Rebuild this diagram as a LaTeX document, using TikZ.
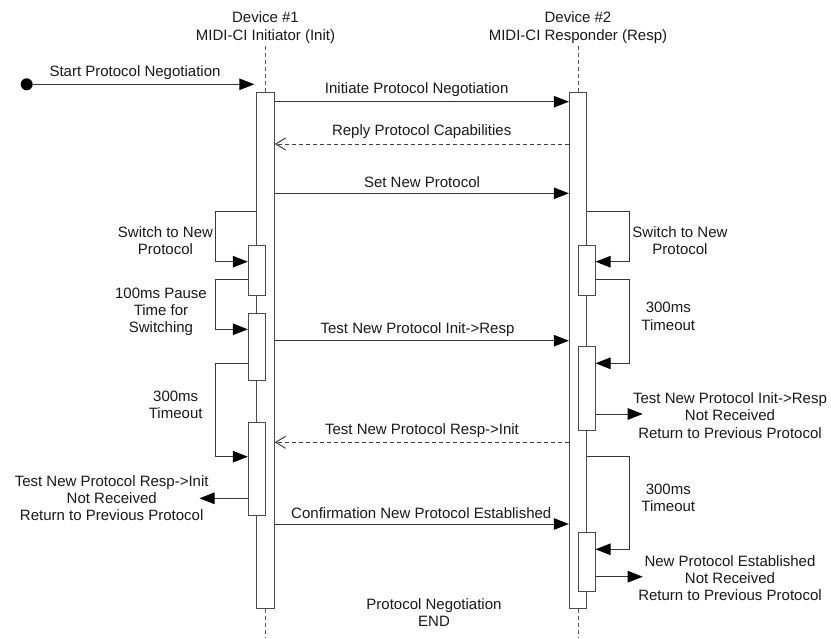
\documentclass[tikz,border=0pt]{standalone}
\usepackage{fontspec}
\setmainfont{Liberation Sans}
\usetikzlibrary{arrows.meta}
\begin{document}
\begin{tikzpicture}[x=1pt,y=-1pt,
 txt/.style={font=\fontsize{15}{17.3}\selectfont, text=black!90, inner sep=0pt, align=center},
 lbl/.style={txt, anchor=base},
 bar/.style={draw=black!70, fill=white, line width=1pt, inner sep=0pt, minimum width=17.4pt},
 msg/.style={draw=black!78, line width=1pt, -{Triangle[length=15pt,width=11.5pt,color=black]}},
 reply/.style={draw=black!75, line width=1pt, dash pattern=on 4pt off 3pt, -{Straight Barb[length=10pt,width=12pt]}},
 life/.style={draw=black!65, line width=0.9pt, dash pattern=on 4pt off 3pt}]
\useasboundingbox (0,0) rectangle (831,638);

% headers
\node[txt] (h1) at (265.5,27.5) {Device \#1\\MIDI-CI Initiator (Init)};
\node[txt] (h2) at (578,27.5) {Device \#2\\MIDI-CI Responder (Resp)};

% main activation bars
\node[bar, minimum height=515.3pt] (b1) at (265.5,350.35) {};
\node[bar, minimum height=515.3pt] (b2) at (578,350.35) {};

% lifelines
\coordinate (bot) at (0,638);
\draw[life, shorten <=3pt] (b1.north |- h1.south) -- (b1.north);
\draw[life, shorten <=3pt] (b2.north |- h2.south) -- (b2.north);
\draw[life] (b1.south) -- (b1.south |- bot);
\draw[life] (b2.south) -- (b2.south |- bot);

% nested activation bars
\node[bar, minimum height=50.7pt] (l1) at (257,270.35) {};
\node[bar, minimum height=67.4pt] (l2) at (257,347) {};
\node[bar, minimum height=93.4pt] (l3) at (257,469) {};
\node[bar, minimum height=50.7pt, minimum width=16.7pt] (r1) at (586.7,270.35) {};
\node[bar, minimum height=84pt, minimum width=16.7pt] (r2) at (586.7,388.7) {};
\node[bar, minimum height=58.7pt, minimum width=16.7pt] (r3) at (586.7,561.65) {};

% levels
\coordinate (lx) at (215,0);
\coordinate (rx) at (629.3,0);
\coordinate (yInit) at (0,101.7);
\coordinate (yReply) at (0,144);
\coordinate (ySet) at (0,193.3);
\coordinate (ySw) at (0,211);
\coordinate (ySwIn) at (0,261.7);
\coordinate (yPause) at (0,279);
\coordinate (yPauseIn) at (0,329.3);
\coordinate (yTestIR) at (0,340.7);
\coordinate (yToL) at (0,363.3);
\coordinate (yToLIn) at (0,456.7);
\coordinate (yTestRI) at (0,442.3);
\coordinate (yFailL) at (0,498.3);
\coordinate (yConf) at (0,524);
\coordinate (yR1) at (0,279);
\coordinate (yR1In) at (0,363.3);
\coordinate (yFailR1) at (0,414);
\coordinate (yR2) at (0,456);
\coordinate (yR2In) at (0,549.3);
\coordinate (yFailR2) at (0,576.7);
\coordinate (oL) at (199.5,498.3);
\coordinate (oR1) at (642.7,414);
\coordinate (oR2) at (642.7,576.7);

% start
\node[circle, fill=black, inner sep=0pt, minimum size=12pt] (start) at (26.7,84.3) {};
\draw[msg, shorten >=2pt] (start) -- (b1.west |- start);

% messages
\draw[msg] (b1.east |- yInit) -- (b2.west |- yInit);
\draw[reply] (b2.west |- yReply) -- (b1.east |- yReply);
\draw[msg] (b1.east |- ySet) -- (b2.west |- ySet);
\draw[msg] (b1.west |- ySw) -- (lx |- ySw) -- (lx |- ySwIn) -- (l1.west |- ySwIn);
\draw[msg] (l1.west |- yPause) -- (lx |- yPause) -- (lx |- yPauseIn) -- (l2.west |- yPauseIn);
\draw[msg] (b1.east |- yTestIR) -- (b2.west |- yTestIR);
\draw[msg] (l2.west |- yToL) -- (lx |- yToL) -- (lx |- yToLIn) -- (l3.west |- yToLIn);
\draw[reply] (b2.west |- yTestRI) -- (b1.east |- yTestRI);
\draw[msg] (l3.west |- yFailL) -- (oL);
\draw[msg] (b1.east |- yConf) -- (b2.west |- yConf);
\draw[msg] (b2.east |- ySw) -- (rx |- ySw) -- (rx |- ySwIn) -- (r1.east |- ySwIn);
\draw[msg] (r1.east |- yR1) -- (rx |- yR1) -- (rx |- yR1In) -- (r2.east |- yR1In);
\draw[msg] (r2.east |- yFailR1) -- (oR1);
\draw[msg] (b2.east |- yR2) -- (rx |- yR2) -- (rx |- yR2In) -- (r3.east |- yR2In);
\draw[msg] (r3.east |- yFailR2) -- (oR2);

% labels
\node[lbl] (tStart) at (135,76.5) {Start Protocol Negotiation};
\node[lbl] (tInit) at (416.7,93.8) {Initiate Protocol Negotiation};
\node[lbl] (tReply) at (421.7,135.5) {Reply Protocol Capabilities};
\node[lbl] (tSet) at (422,187.2) {Set New Protocol};
\node[lbl] (tTIR) at (417.5,333.2) {Test New Protocol Init->Resp};
\node[lbl] (tTRI) at (422,434.5) {Test New Protocol Resp->Init};
\node[lbl] (tConf) at (421.3,518.8) {Confirmation New Protocol Established};

\node[txt] (tSwL) at (165.5,240.5) {Switch to New\\Protocol};
\node[txt] (tPause) at (161,312) {100ms Pause\\Time for\\Switching};
\node[txt] (tToL) at (175.7,404.5) {300ms\\Timeout};
\node[txt] (tFailL) at (111.7,498) {Test New Protocol Resp->Init\\Not Received\\Return to Previous Protocol};
\node[txt] (tSwR) at (680,240.5) {Switch to New\\Protocol};
\node[txt] (tToR1) at (668.3,316.4) {300ms\\Timeout};
\node[txt] (tFailR1) at (730,415.5) {Test New Protocol Init->Resp\\Not Received\\Return to Previous Protocol};
\node[txt] (tToR2) at (668.3,497.7) {300ms\\Timeout};
\node[txt] (tFailR2) at (730,578) {New Protocol Established\\Not Received\\Return to Previous Protocol};
\node[txt] (tEnd) at (434,612.5) {Protocol Negotiation\\END};
\end{tikzpicture}
\end{document}
